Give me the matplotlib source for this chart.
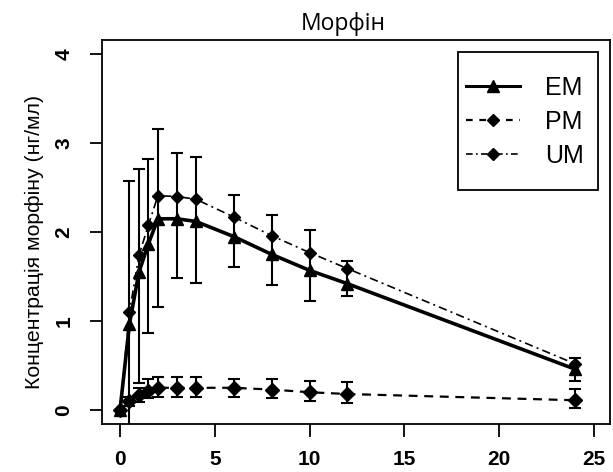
import numpy as np
import matplotlib
matplotlib.use("Agg")
import matplotlib.pyplot as plt
import matplotlib.transforms as mtransforms
from matplotlib.lines import Line2D
from matplotlib.patches import Rectangle

# sampling times (h)
times = [0, 0.5, 1, 1.5, 2, 3, 4, 6, 8, 10, 12, 24]

# mean concentrations (ng/ml)
em = [0, 0.97, 1.55, 1.87, 2.15, 2.15, 2.12, 1.95, 1.75, 1.57, 1.42, 0.46]
pm = [0, 0.10, 0.17, 0.21, 0.25, 0.25, 0.25, 0.25, 0.23, 0.20, 0.18, 0.11]
um = [0, 1.10, 1.74, 2.08, 2.41, 2.40, 2.37, 2.17, 1.96, 1.77, 1.59, 0.52]

# error bar ends
em_lo = [0, -0.60, 0.30, 0.87, 1.16, 1.48, 1.43, 1.61, 1.41, 1.23, 1.28, 0.33]
em_hi = [0, 2.58, 2.71, 2.82, 3.16, 2.89, 2.84, 2.42, 2.19, 2.02, 1.67, 0.59]
pm_lo = [0, 0.05, 0.09, 0.13, 0.15, 0.15, 0.15, 0.15, 0.13, 0.10, 0.08, 0.02]
pm_hi = [0, 0.15, 0.25, 0.35, 0.37, 0.37, 0.37, 0.35, 0.35, 0.33, 0.31, 0.24]

title = "Морфін"
ylabel = "Концентрація морфіну (нг/мл)"
xticks = [0, 5, 10, 15, 20, 25]
yticks = [0, 1, 2, 3, 4]

plt.rcParams['font.family'] = ['Liberation Sans', 'DejaVu Sans']

fig = plt.figure(figsize=(6.13, 4.72), dpi=100)
ax = fig.add_axes([0.1664, 0.1017, 0.9951 - 0.1664, 0.9153 - 0.1017])

t = np.array(times)
e = np.array(em); p = np.array(pm); u = np.array(um)

ax.errorbar(t[1:], e[1:], yerr=[e[1:] - np.array(em_lo[1:]), np.array(em_hi[1:]) - e[1:]],
            fmt="none", ecolor="black", elinewidth=1.5, capsize=4, capthick=1.5, zorder=2)
ax.errorbar(t[1:], p[1:], yerr=[p[1:] - np.array(pm_lo[1:]), np.array(pm_hi[1:]) - p[1:]],
            fmt="none", ecolor="black", elinewidth=1.5, capsize=4, capthick=1.5, zorder=2)

ax.plot(t, u, color="black", lw=1.2, ls=(0, (5, 2.5, 1.2, 2.5)), marker="D", ms=6.5, zorder=3)
ax.plot(t, p, color="black", lw=1.6, ls=(0, (4, 3)), marker="D", ms=7.5, zorder=3)
ax.plot(t, e, color="black", lw=2.6, ls="-", marker="^", ms=9, zorder=4)

ax.set_xlim(-0.95, 25.85)
ax.set_ylim(-0.157, 4.16)
ax.set_xticks(xticks)
ax.set_yticks(yticks)
for s in ax.spines.values():
    s.set_linewidth(1.3)
ax.tick_params(axis="both", length=9, width=1.3, labelsize=15)
ax.tick_params(axis="x", pad=10)
ax.tick_params(axis="y", labelleft=False)
for lab in ax.get_xticklabels():
    lab.set_fontweight("bold")

# y tick labels, rotated like R's default axis
ytrans = mtransforms.blended_transform_factory(ax.transAxes, ax.transData)
for v in yticks:
    ax.text(-0.075, v, str(v), transform=ytrans, rotation=90, ha="center",
            va="center", fontsize=15, fontweight="bold", clip_on=False)

ax.set_title(title, fontsize=16.5, pad=7, x=0.475, family=["Open Sans", "DejaVu Sans"])
ax.set_ylabel(ylabel, fontsize=15.3)
ax.yaxis.set_label_coords(-0.115, 0.474)

# legend: R-style box drawn separately
ax.add_patch(Rectangle((0.701, 0.609), 0.275, 0.36, transform=ax.transAxes,
                       fill=False, edgecolor="black", lw=1.3, zorder=5))
handles = [
    Line2D([], [], color="black", lw=2.2, ls="-", marker="^", ms=8),
    Line2D([], [], color="black", lw=1.6, ls=(0, (3, 3)), marker="D", ms=6),
    Line2D([], [], color="black", lw=1.2, ls=(0, (4, 2, 1, 2)), marker="D", ms=6),
]
ax.legend(handles, ["EM", "PM", "UM"], loc="center left", fontsize=18,
          frameon=False, handlelength=2.15, borderpad=0, borderaxespad=0,
          labelspacing=0.4, handletextpad=1.0,
          bbox_to_anchor=(0.7165, 0.786))

fig.savefig("out.png", dpi=100)
